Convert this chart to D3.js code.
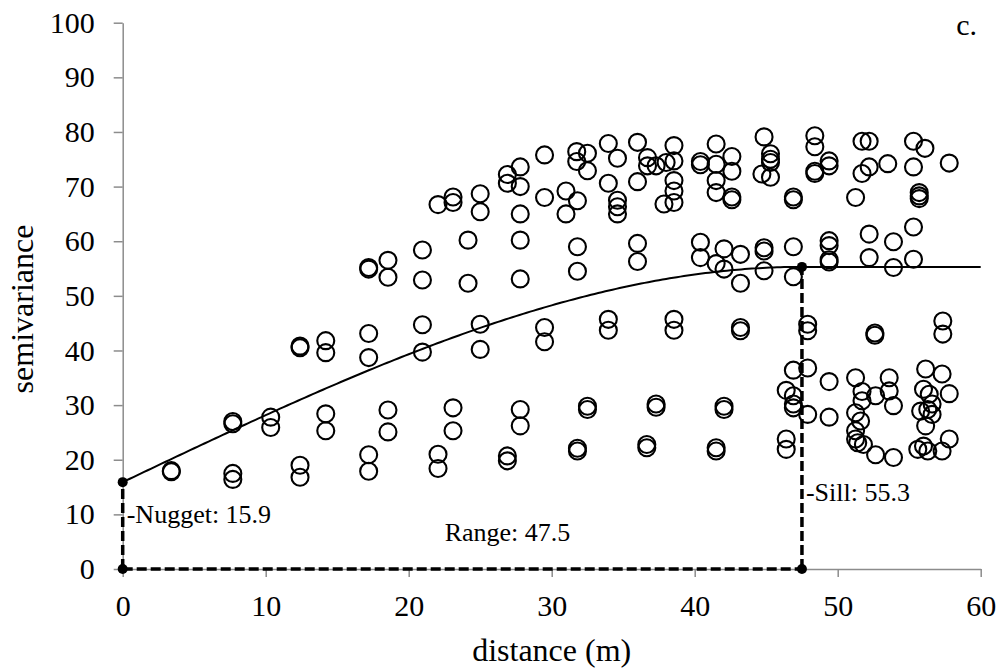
<!DOCTYPE html>
<html>
<head>
<meta charset="utf-8">
<script src="https://cdn.jsdelivr.net/npm/d3@7"></script>
<style>
  body { margin: 0; background: #fff; }
  svg { display: block; font-family: "Liberation Serif", "Times New Roman", serif; }
  svg text { fill: #000; }
  .axis path, .axis line { stroke: #8c8c8c; stroke-width: 1.5; }
  .axis text { font-size: 30px; fill: #000; }
</style>
</head>
<body>
<svg id="chart"></svg>
<script>
// experimental semivariogram points (distance in m, semivariance)
const distance = [
  17.2, 17.2, 18.55, 18.55, 12.4, 12.4, 14.2, 14.2, 17.2, 17.2,
  7.7, 7.7, 10.35, 10.35, 14.2, 14.2, 18.55, 18.55,
  3.4, 3.4, 7.7, 7.7, 12.4, 12.4, 17.2, 17.2,
  22.05, 23.1, 23.1, 25.0, 25.0, 26.9, 26.9, 27.8, 27.8, 27.8, 29.5, 29.5, 31.0, 31.0, 31.8,
  31.75, 31.75, 32.5, 32.5, 33.96, 34.6, 33.96, 34.6, 34.6, 34.6, 36.0, 36.0, 36.7, 36.7,
  37.3, 38.0, 38.55, 38.55, 38.55, 37.85, 38.55,
  20.96, 20.96, 24.15, 24.15, 27.8, 27.8, 31.8, 31.8, 36.0, 36.0,
  20.96, 20.96, 25.0, 25.0, 29.5, 29.5, 33.96, 33.96, 38.55, 38.55,
  23.1, 23.1, 27.8, 27.8, 32.5, 32.5, 37.3, 37.3, 22.05, 22.05, 26.9, 26.9, 31.8, 31.8, 36.65, 36.65,
  38.55, 40.4, 40.4, 41.5, 41.5, 41.5, 41.5, 42.6, 42.6, 42.6, 42.6, 44.85, 45.3, 45.3, 45.3,
  44.7, 45.3, 46.9, 46.9, 48.4, 48.4, 49.4, 49.4, 48.4, 48.4, 51.7, 52.2, 51.7, 52.2, 53.5,
  51.25, 55.3, 56.1, 55.3, 55.7, 55.7, 55.7, 57.8,
  40.4, 40.4, 41.5, 42.05, 42.05, 43.2, 43.2, 44.85, 44.85, 44.85, 46.9, 46.9, 49.4, 49.4,
  49.4, 49.4, 52.2, 52.2, 53.9, 53.9, 55.3, 55.3,
  43.2, 43.2, 47.9, 47.9, 52.6, 52.6, 57.35, 57.35,
  42.05, 42.05, 41.5, 41.5, 46.9, 47.9, 46.4, 46.9, 46.9, 46.9, 47.9, 49.4, 49.4, 46.4, 46.4,
  51.25, 51.7, 51.7, 52.65, 53.6, 53.6, 53.9, 51.25, 51.6, 51.25, 51.25, 51.4, 51.8, 52.65, 53.9,
  56.15, 57.3, 57.8, 56.0, 56.4, 55.8, 56.3, 56.6, 56.6, 56.15, 55.6, 56.0, 56.3, 57.3, 57.8
];
const semivariance = [
  55.2, 54.9, 56.5, 53.4, 40.8, 40.5, 41.8, 39.6, 43.1, 38.7,
  27.0, 26.6, 27.8, 25.9, 28.4, 25.3, 29.1, 25.1,
  18.0, 17.8, 17.5, 16.4, 19.0, 16.8, 20.9, 17.9,
  66.7, 68.1, 67.1, 68.7, 65.4, 72.2, 70.6, 73.6, 70.0, 65.0, 75.8, 68.0, 69.2, 65.0, 67.4,
  76.4, 74.6, 76.1, 72.9, 77.9, 75.2, 70.6, 67.5, 66.3, 65.0, 78.1, 70.9, 75.3, 73.8,
  73.8, 74.4, 77.5, 71.1, 69.2, 66.8, 67.1,
  58.4, 52.9, 60.2, 52.3, 60.2, 53.1, 59.0, 54.5, 59.6, 56.3,
  44.7, 39.7, 44.8, 40.2, 44.2, 41.6, 45.7, 43.7, 45.7, 43.7,
  29.5, 25.3, 29.2, 26.2, 29.8, 29.2, 30.2, 29.6, 21.0, 18.4, 20.7, 19.8, 22.1, 21.6, 22.8, 22.2,
  74.7, 74.6, 74.0, 77.8, 74.1, 71.1, 68.9, 75.5, 72.8, 68.1, 67.6, 79.1, 76.0, 75.0, 74.4,
  72.3, 71.7, 68.1, 67.6, 79.3, 77.3, 74.7, 73.8, 72.8, 72.4, 78.3, 78.3, 72.4, 73.6, 74.2,
  68.0, 78.3, 77.0, 73.6, 68.9, 68.3, 67.8, 74.3,
  59.8, 57.0, 55.9, 54.9, 58.6, 57.6, 52.3, 58.8, 58.2, 54.6, 59.0, 53.5, 60.1, 59.2,
  56.6, 56.2, 61.3, 57.0, 59.9, 55.2, 62.6, 56.7,
  44.2, 43.6, 44.8, 43.6, 43.2, 42.8, 45.4, 43.0,
  29.8, 29.2, 22.2, 21.6, 36.4, 36.8, 32.7, 31.7, 30.2, 29.5, 28.3, 34.3, 27.8, 23.8, 21.9,
  35.0, 32.5, 30.8, 31.7, 35.0, 32.6, 29.9, 28.6, 27.1, 25.3, 23.8, 23.1, 22.8, 20.9, 20.4,
  36.6, 35.7, 32.1, 32.9, 32.0, 28.9, 29.2, 30.2, 28.3, 26.2, 21.9, 22.5, 21.6, 21.6, 23.8
];

// fitted spherical model
const nugget = 15.9;
const sill = 55.3;
const range = 47.5;

const xTicks = [0, 10, 20, 30, 40, 50, 60];
const yTicks = [0, 10, 20, 30, 40, 50, 60, 70, 80, 90, 100];

const points = distance.map((d, i) => ({x: d, y: semivariance[i]}));

const W = 1000, H = 668;
const margin = {top: 22.7, right: 19.3, bottom: 99, left: 122.7};
const width = W - margin.left - margin.right;
const height = H - margin.top - margin.bottom;

const svg = d3.select('#chart')
    .attr('width', W)
    .attr('height', H);

const chart = svg.append('g')
    .attr('transform', `translate(${margin.left},${margin.top})`);

const xScale = d3.scaleLinear().domain([0, 60]).range([0, width]);
const yScale = d3.scaleLinear().domain([0, 100]).range([height, 0]);

// axes
const xAxis = d3.axisBottom(xScale)
    .tickValues(xTicks)
    .tickSize(8)
    .tickSizeOuter(0)
    .tickPadding(18);
const yAxis = d3.axisLeft(yScale)
    .tickValues(yTicks)
    .tickSize(9)
    .tickSizeOuter(0)
    .tickPadding(19);

chart.append('g')
    .attr('class', 'axis x-axis')
    .attr('transform', `translate(0,${height})`)
    .call(xAxis);

chart.append('g')
    .attr('class', 'axis y-axis')
    .call(yAxis);
chart.selectAll('.axis').attr('font-family', null).attr('font-size', null);

// spherical model curve
const model = h => h >= range ? sill
    : nugget + (sill - nugget) * (1.5 * h / range - 0.5 * Math.pow(h / range, 3));
const curveData = d3.range(0, 60.001, 0.25).map(h => ({x: h, y: model(h)}));

const line = d3.line()
    .x(d => xScale(d.x))
    .y(d => yScale(d.y));

chart.append('path')
    .datum(curveData)
    .attr('fill', 'none')
    .attr('stroke', '#000')
    .attr('stroke-width', 2)
    .attr('d', line);

// scatter
chart.selectAll('.pt')
    .data(points)
    .join('circle')
    .attr('class', 'pt')
    .attr('cx', d => xScale(d.x))
    .attr('cy', d => yScale(d.y))
    .attr('r', 8.5)
    .attr('fill', 'none')
    .attr('stroke', '#000')
    .attr('stroke-width', 2.1);

// nugget / range / sill guides
const guides = [
    [{x: 0, y: 0}, {x: 0, y: nugget}],
    [{x: 0, y: 0}, {x: range, y: 0}],
    [{x: range, y: 0}, {x: range, y: sill}]
];
chart.selectAll('.guide')
    .data(guides)
    .join('path')
    .attr('class', 'guide')
    .attr('fill', 'none')
    .attr('stroke', '#000')
    .attr('stroke-width', 3.5)
    .attr('stroke-dasharray', '10,4')
    .attr('d', line);

const dots = [{x: 0, y: 0}, {x: 0, y: nugget}, {x: range, y: 0}, {x: range, y: sill}];
chart.selectAll('.dot')
    .data(dots)
    .join('circle')
    .attr('class', 'dot')
    .attr('cx', d => xScale(d.x))
    .attr('cy', d => yScale(d.y))
    .attr('r', 5)
    .attr('fill', '#000');

// annotations
chart.append('text')
    .attr('x', xScale(0) + 4)
    .attr('y', 523.5 - margin.top)
    .style('font-size', '26px')
    .text('-Nugget: ' + nugget);

chart.append('text')
    .attr('x', 507.5 - margin.left)
    .attr('y', 541.5 - margin.top)
    .attr('text-anchor', 'middle')
    .style('font-size', '26px')
    .text('Range: ' + range);

chart.append('text')
    .attr('x', xScale(range) + 4)
    .attr('y', 501.5 - margin.top)
    .style('font-size', '26px')
    .text('-Sill: ' + sill);

// titles
svg.append('text')
    .attr('x', margin.left + width / 2)
    .attr('y', 661)
    .attr('text-anchor', 'middle')
    .style('font-size', '32px')
    .text('distance (m)');

svg.append('text')
    .attr('transform', 'rotate(-90)')
    .attr('x', -309)
    .attr('y', 33)
    .attr('text-anchor', 'middle')
    .style('font-size', '32px')
    .text('semivariance');

svg.append('text')
    .attr('x', 977)
    .attr('y', 35)
    .attr('text-anchor', 'end')
    .style('font-size', '30px')
    .text('c.');
</script>
</body>
</html>
